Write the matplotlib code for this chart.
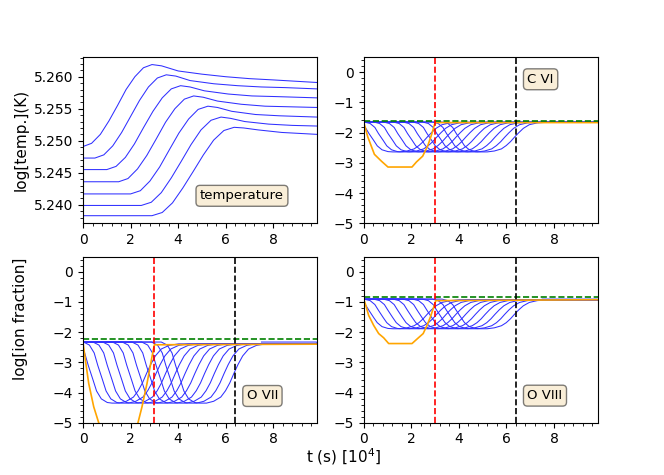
import numpy as np
import matplotlib
matplotlib.use('Agg')
import matplotlib.pyplot as plt
from matplotlib.ticker import AutoMinorLocator, MultipleLocator, FormatStrFormatter

# time axis end (units of 1e4 s)
t_end = 9.83

# temperature curves, one list per curve
temp_t = [
    [0, 0.36, 0.73, 1.09, 1.45, 1.81, 2.18, 2.54, 2.9, 3.3, 4.0, 5.0, 6.0, 7.0, 8.0, 9.83],
    [0, 0.5, 0.875, 1.25, 1.625, 2.0, 2.375, 2.75, 3.125, 3.5, 3.9, 4.5, 5.5, 6.5, 7.5, 8.5, 9.83],
    [0, 1.0, 1.39, 1.78, 2.16, 2.55, 2.94, 3.33, 3.71, 4.1, 4.5, 5.1, 6.1, 7.1, 8.1, 9.83],
    [0, 1.5, 1.89, 2.29, 2.68, 3.08, 3.47, 3.86, 4.26, 4.65, 5.05, 5.65, 6.65, 7.65, 9.83],
    [0, 2.0, 2.41, 2.81, 3.22, 3.63, 4.03, 4.44, 4.84, 5.25, 5.65, 6.25, 7.25, 8.25, 9.83],
    [0, 2.45, 2.87, 3.29, 3.71, 4.13, 4.54, 4.96, 5.38, 5.8, 6.2, 6.8, 7.8, 8.8, 9.83],
    [0, 2.9, 3.33, 3.76, 4.19, 4.63, 5.06, 5.49, 5.92, 6.35, 6.75, 7.35, 8.35, 9.83],
]
temp_v = [
    [5.2491, 5.2496, 5.2510, 5.2531, 5.2555, 5.2580, 5.2600, 5.2614, 5.2619, 5.2617, 5.2609, 5.2604, 5.2600, 5.2597, 5.2595, 5.2591],
    [5.2473, 5.2473, 5.2478, 5.2492, 5.2513, 5.2538, 5.2563, 5.2584, 5.2598, 5.2603, 5.2601, 5.2594, 5.2589, 5.2586, 5.2584, 5.2583, 5.2581],
    [5.2455, 5.2455, 5.2460, 5.2474, 5.2495, 5.2521, 5.2546, 5.2567, 5.2581, 5.2586, 5.2584, 5.2578, 5.2573, 5.2570, 5.2569, 5.2567],
    [5.2436, 5.2436, 5.2441, 5.2456, 5.2477, 5.2503, 5.2529, 5.2550, 5.2565, 5.2570, 5.2568, 5.2562, 5.2557, 5.2554, 5.2552],
    [5.2417, 5.2417, 5.2422, 5.2437, 5.2459, 5.2486, 5.2512, 5.2534, 5.2549, 5.2554, 5.2552, 5.2546, 5.2541, 5.2539, 5.2537],
    [5.2399, 5.2399, 5.2404, 5.2419, 5.2442, 5.2468, 5.2494, 5.2517, 5.2532, 5.2537, 5.2535, 5.2530, 5.2526, 5.2524, 5.2523],
    [5.2383, 5.2383, 5.2388, 5.2403, 5.2426, 5.2452, 5.2478, 5.2501, 5.2516, 5.2521, 5.2520, 5.2517, 5.2513, 5.2510],
]

# ion fraction curves: one shape per ion (time relative to when the front arrives),
# repeated at each arrival time
ion_tau = [-3.0, -0.7, -0.45, -0.25, -0.1, 0.0, 0.1, 0.25, 0.45, 0.7, 0.9,
           1.2, 1.5, 1.8, 2.0, 2.18, 2.35, 2.52, 2.72, 2.97, 3.3, 3.7, 10.0]
arrival = [0.32, 0.72, 1.12, 1.53, 1.94, 2.35, 2.76, 3.17, 3.58, 3.99, 10.5]

cvi_shape = [-1.65, -1.65, -1.70, -1.83, -2.03, -2.145, -2.26, -2.44, -2.57, -2.63, -2.64,
             -2.64, -2.61, -2.54, -2.43, -2.30, -2.15, -2.01, -1.86, -1.74, -1.68, -1.66, -1.66]
o7_shape = [-2.33, -2.33, -2.43, -2.69, -3.10, -3.34, -3.58, -3.95, -4.21, -4.33, -4.35,
            -4.35, -4.29, -4.15, -3.94, -3.68, -3.37, -3.08, -2.79, -2.56, -2.44, -2.39, -2.39]
o8_shape = [-0.91, -0.91, -0.96, -1.09, -1.28, -1.40, -1.52, -1.69, -1.82, -1.88, -1.89,
            -1.89, -1.86, -1.79, -1.69, -1.56, -1.41, -1.27, -1.13, -1.02, -0.96, -0.93, -0.93]

# orange curves
cvi_orange_t = [0, 0.17, 0.45, 0.75, 1.02, 2.03, 2.22, 2.48, 2.70, 2.86, 3.0, 9.83]
cvi_orange_v = [-1.65, -2.14, -2.72, -2.95, -3.14, -3.14, -2.97, -2.78, -2.42, -2.05, -1.67, -1.67]
o7_orange_t = [0, 0.1, 0.24, 0.45, 0.66, 1.0, 2.0, 2.31, 2.48, 2.69, 2.9, 3.0, 9.83]
o7_orange_v = [-2.35, -2.92, -3.70, -4.47, -5.0, -5.5, -5.5, -5.0, -4.47, -3.70, -2.81, -2.42, -2.40]
o8_orange_t = [0, 0.07, 0.21, 0.42, 0.63, 0.84, 1.05, 2.03, 2.27, 2.5, 2.66, 2.8, 2.94, 3.03, 9.83]
o8_orange_v = [-0.91, -1.07, -1.45, -1.78, -2.05, -2.19, -2.38, -2.38, -2.21, -2.05, -1.78, -1.51, -1.18, -0.96, -0.93]

# equilibrium levels (green dashed)
cvi_eq = -1.61
o7_eq = -2.23
o8_eq = -0.85

t_red = 3.0
t_black = 6.4

box = dict(boxstyle='round', facecolor='wheat', alpha=0.5)
blue = '#3030ff'

fig, axs = plt.subplots(2, 2, figsize=(6.64, 4.75), dpi=100)

# temperature panel
ax = axs[0, 0]
for tt, vv in zip(temp_t, temp_v):
    ax.plot(tt, vv, color=blue, lw=0.75)
ax.set_xlim(0, t_end)
ax.set_ylabel('log[temp.](K)', fontsize=11)
ax.yaxis.set_major_locator(MultipleLocator(0.005))
ax.yaxis.set_major_formatter(FormatStrFormatter('%.3f'))
ax.xaxis.set_minor_locator(AutoMinorLocator(5))
ax.yaxis.set_minor_locator(AutoMinorLocator(5))
ax.text(0.5, 0.165, 'temperature', transform=ax.transAxes, ha='left', va='center',
        fontsize=9.5, bbox=box)

def ion_panel(ax, shape, orange_t, orange_v, eq, name, ytext):
    tau = np.array(ion_tau)
    for a in arrival:
        ax.plot(tau + a, shape, color=blue, lw=0.75)
    ax.plot(orange_t, orange_v, color='orange', lw=1.2)
    ax.axhline(eq, color='g', ls='--', lw=1.2)
    ax.axvline(t_red, color='r', ls='--', lw=1.2)
    ax.axvline(t_black, color='k', ls='--', lw=1.2)
    ax.set_xlim(0, t_end)
    ax.set_ylim(-5, 0.5)
    ax.set_yticks([-5, -4, -3, -2, -1, 0])
    ax.xaxis.set_minor_locator(AutoMinorLocator(5))
    ax.yaxis.set_minor_locator(AutoMinorLocator(5))
    ax.text(0.7, ytext, name, transform=ax.transAxes, ha='left', va='center',
            fontsize=9.5, bbox=box)

ion_panel(axs[0, 1], cvi_shape, cvi_orange_t, cvi_orange_v, cvi_eq, 'C VI', 0.866)
ion_panel(axs[1, 0], o7_shape, o7_orange_t, o7_orange_v, o7_eq, 'O VII', 0.161)
ion_panel(axs[1, 1], o8_shape, o8_orange_t, o8_orange_v, o8_eq, 'O VIII', 0.163)

fig.text(0.031, 0.328, 'log[ion fraction]', rotation=90, ha='center', va='center', fontsize=11)
fig.text(0.461, 0.026, r't (s) [$10^4$]', ha='left', va='baseline', fontsize=11)

plt.savefig('out.png', dpi=100)
